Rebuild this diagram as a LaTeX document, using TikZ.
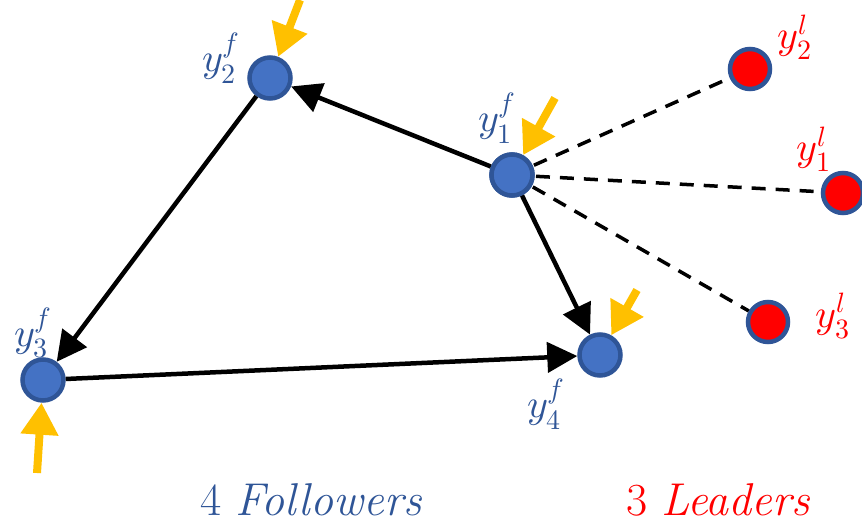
\documentclass[tikz,border=0pt]{standalone}
\usepackage{unicode-math}
\setmathfont{Latin Modern Math}
\usetikzlibrary{arrows.meta}
\definecolor{nodeblue}{HTML}{4472C4}
\definecolor{rimblue}{HTML}{2F5597}
\definecolor{txtblue}{HTML}{2F5597}
\definecolor{inorange}{HTML}{FFC000}
\definecolor{leadred}{HTML}{FF0000}
\tikzset{
  follower/.style={circle, fill=nodeblue, draw=rimblue, line width=4.5pt, minimum size=41pt, inner sep=0pt},
  leader/.style={circle, fill=leadred, draw=rimblue, line width=4.5pt, minimum size=40pt, inner sep=0pt},
  flabel/.style={text=txtblue, font=\fontsize{40}{44}\selectfont, inner sep=0pt},
  llabel/.style={text=leadred, font=\fontsize{40}{44}\selectfont, inner sep=0pt},
  link/.style={line width=4.5pt, -{Triangle[length=30pt,width=30pt]}},
  leadlink/.style={line width=3.5pt, dash pattern=on 14pt off 10pt},
  inarrow/.style={draw=inorange, line width=8pt, -{Triangle[length=32pt,width=36pt,fill=inorange]}},
  caption/.style={font=\fontsize{46}{50}\selectfont, inner sep=0pt}
}
\begin{document}
\begin{tikzpicture}[x=1pt,y=-1pt]
\useasboundingbox (0,0) rectangle (862,529);
% followers
\node[follower] (f2) at (270,78) {};
\node[follower] (f1) at (512,175) {};
\node[follower] (f3) at (43,380) {};
\node[follower] (f4) at (600,355) {};
% leaders
\node[leader] (l2) at (750,69) {};
\node[leader] (l1) at (843,193) {};
\node[leader] (l3) at (768,322) {};
% labels
\node[flabel] (t2) at (221,58) {$y_2^f$};
\node[flabel] (t1) at (497,118) {$y_1^f$};
\node[flabel] (t3) at (33,333) {$y_3^f$};
\node[flabel] (t4) at (546,404) {$y_4^f$};
\node[llabel] (s2) at (795,37) {$y_2^l$};
\node[llabel] (s1) at (814,149) {$y_1^l$};
\node[llabel] (s3) at (833,316) {$y_3^l$};
% follower links
\draw[link] (f1) -- (f2);
\draw[link] (f2) -- (f3);
\draw[link] (f3) -- (f4);
\draw[link] (f1) -- (f4);
% leader links
\draw[leadlink] (f1.center) -- (l2);
\draw[leadlink] (f1.center) -- (l1);
\draw[leadlink] (f1.center) -- (l3);
\node[follower] at (f1) {};
% input arrows
\coordinate (i2) at (300,0);
\coordinate (i1) at (555,98);
\coordinate (i3) at (37,473);
\coordinate (i4) at (637,290);
\draw[inarrow] (i2) -- (f2);
\draw[inarrow] (i1) -- (f1);
\draw[inarrow] (i3) -- (f3);
\draw[inarrow] (i4) -- (f4);
% captions
\node[caption, text=txtblue] (cf) at (311,500) {4 \textit{Followers}};
\node[caption, text=leadred] (cl) at (718,500) {3 \textit{Leaders}};
\end{tikzpicture}
\end{document}
